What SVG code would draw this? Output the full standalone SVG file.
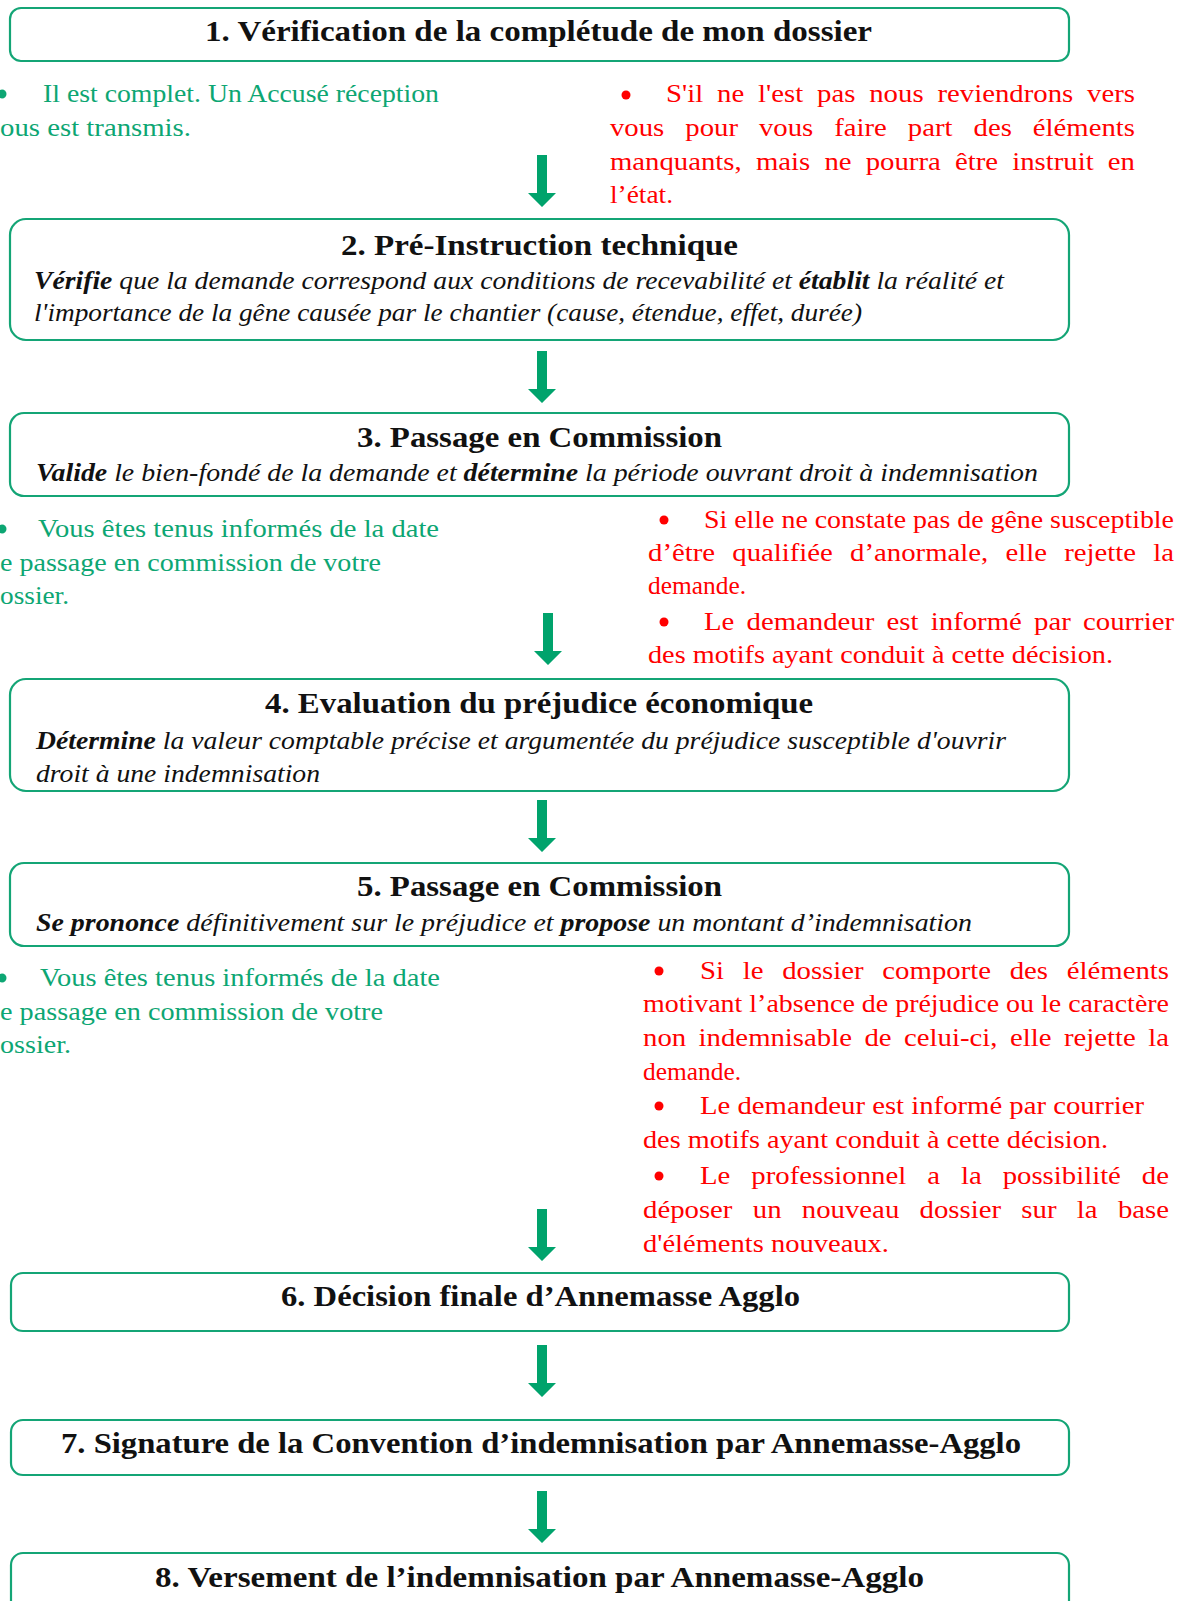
<svg xmlns="http://www.w3.org/2000/svg" xmlns:xlink="http://www.w3.org/1999/xlink" width="1187" height="1601" viewBox="0 0 1187 1601">
<style>
.box{fill:#fff;stroke:#14A576;stroke-width:2.2}
.t{font-family:"Liberation Serif",serif;font-weight:bold;font-size:29px;fill:#111}
.d{font-family:"Liberation Serif",serif;font-style:italic;font-size:25px;fill:#111}
.d .b{font-weight:bold}
.g{font-family:"Liberation Serif",serif;font-size:25px;fill:#0DA673}
.r{font-family:"Liberation Serif",serif;font-size:25px;fill:#FF0000}
.gb{fill:#0DA673}
.rb{fill:#FF0000}
.arr{fill:#00A36C}
</style>
<defs>
<path id="arrow" d="M-5,0 H5 V38 H14 L0,52 L-14,38 H-5 Z"/>
</defs>
<rect width="1187" height="1601" fill="#fff"/>

<g id="node1">
<rect class="box" x="10" y="8" width="1059" height="53" rx="11"/>
<text class="t" x="205" y="41" textLength="667" lengthAdjust="spacingAndGlyphs">1. Vérification de la complétude de mon dossier</text>
</g>

<g id="note1-ok">
<circle class="gb" cx="2" cy="94" r="4.5"/>
<text class="g" x="43" y="102" textLength="396" lengthAdjust="spacingAndGlyphs">Il est complet. Un Accusé réception</text>
<text class="g" x="0" y="136" textLength="191" lengthAdjust="spacingAndGlyphs">ous est transmis.</text>
</g>

<g id="note1-ko">
<circle class="rb" cx="626" cy="95" r="4.5"/>
<text class="r" x="666" y="102" word-spacing="5.8" textLength="469" lengthAdjust="spacingAndGlyphs">S'il ne l'est pas nous reviendrons vers</text>
<text class="r" x="610" y="136" word-spacing="12" textLength="525" lengthAdjust="spacingAndGlyphs">vous pour vous faire part des éléments</text>
<text class="r" x="610" y="170" word-spacing="6.1" textLength="525" lengthAdjust="spacingAndGlyphs">manquants, mais ne pourra être instruit en</text>
<text class="r" x="610" y="203" textLength="63" lengthAdjust="spacingAndGlyphs">l’état.</text>
</g>

<g id="node2">
<rect class="box" x="10" y="219" width="1059" height="121" rx="16"/>
<text class="t" x="341" y="255" textLength="397" lengthAdjust="spacingAndGlyphs">2. Pré-Instruction technique</text>
<text class="d" x="34" y="289" textLength="970" lengthAdjust="spacingAndGlyphs"><tspan class="b">Vérifie</tspan> que la demande correspond aux conditions de recevabilité et <tspan class="b">établit</tspan> la réalité et</text>
<text class="d" x="34" y="321" textLength="828" lengthAdjust="spacingAndGlyphs">l'importance de la gêne causée par le chantier (cause, étendue, effet, durée)</text>
</g>

<g id="node3">
<rect class="box" x="10" y="413" width="1059" height="83" rx="14"/>
<text class="t" x="357" y="447" textLength="365" lengthAdjust="spacingAndGlyphs">3. Passage en Commission</text>
<text class="d" x="36" y="481" textLength="1002" lengthAdjust="spacingAndGlyphs"><tspan class="b">Valide</tspan> le bien-fondé de la demande et <tspan class="b">détermine</tspan> la période ouvrant droit à indemnisation</text>
</g>

<g id="note3-info">
<circle class="gb" cx="2" cy="529" r="4.5"/>
<text class="g" x="38" y="537" textLength="401" lengthAdjust="spacingAndGlyphs">Vous êtes tenus informés de la date</text>
<text class="g" x="0" y="571" textLength="381" lengthAdjust="spacingAndGlyphs">e passage en commission de votre</text>
<text class="g" x="0" y="604" textLength="69" lengthAdjust="spacingAndGlyphs">ossier.</text>
</g>

<g id="note3-ko">
<circle class="rb" cx="664" cy="520" r="4.5"/>
<text class="r" x="704" y="528" textLength="470" lengthAdjust="spacingAndGlyphs">Si elle ne constate pas de gêne susceptible</text>
<text class="r" x="648" y="561" word-spacing="8.7" textLength="526" lengthAdjust="spacingAndGlyphs">d’être qualifiée d’anormale, elle rejette la</text>
<text class="r" x="648" y="594" textLength="98" lengthAdjust="spacingAndGlyphs">demande.</text>
<circle class="rb" cx="664" cy="622" r="4.5"/>
<text class="r" x="704" y="630" word-spacing="4.4" textLength="470" lengthAdjust="spacingAndGlyphs">Le demandeur est informé par courrier</text>
<text class="r" x="648" y="663" textLength="465" lengthAdjust="spacingAndGlyphs">des motifs ayant conduit à cette décision.</text>
</g>

<g id="node4">
<rect class="box" x="10" y="679" width="1059" height="112" rx="16"/>
<text class="t" x="265" y="713" textLength="548" lengthAdjust="spacingAndGlyphs">4. Evaluation du préjudice économique</text>
<text class="d" x="36" y="749" textLength="970" lengthAdjust="spacingAndGlyphs"><tspan class="b">Détermine</tspan> la valeur comptable précise et argumentée du préjudice susceptible d'ouvrir</text>
<text class="d" x="36" y="782" textLength="284" lengthAdjust="spacingAndGlyphs">droit à une indemnisation</text>
</g>

<g id="node5">
<rect class="box" x="10" y="863" width="1059" height="83" rx="14"/>
<text class="t" x="357" y="896" textLength="365" lengthAdjust="spacingAndGlyphs">5. Passage en Commission</text>
<text class="d" x="36" y="931" textLength="936" lengthAdjust="spacingAndGlyphs"><tspan class="b">Se prononce</tspan> définitivement sur le préjudice et <tspan class="b">propose</tspan> un montant d’indemnisation</text>
</g>

<g id="note5-info">
<circle class="gb" cx="2" cy="978" r="4.5"/>
<text class="g" x="40" y="986" textLength="400" lengthAdjust="spacingAndGlyphs">Vous êtes tenus informés de la date</text>
<text class="g" x="0" y="1020" textLength="383" lengthAdjust="spacingAndGlyphs">e passage en commission de votre</text>
<text class="g" x="0" y="1053" textLength="71" lengthAdjust="spacingAndGlyphs">ossier.</text>
</g>

<g id="note5-ko">
<circle class="rb" cx="659" cy="971" r="4.5"/>
<text class="r" x="700" y="979" word-spacing="10" textLength="469" lengthAdjust="spacingAndGlyphs">Si le dossier comporte des éléments</text>
<text class="r" x="643" y="1012" textLength="526" lengthAdjust="spacingAndGlyphs">motivant l’absence de préjudice ou le caractère</text>
<text class="r" x="643" y="1046" word-spacing="4.6" textLength="526" lengthAdjust="spacingAndGlyphs">non indemnisable de celui-ci, elle rejette la</text>
<text class="r" x="643" y="1080" textLength="98" lengthAdjust="spacingAndGlyphs">demande.</text>
<circle class="rb" cx="659" cy="1106" r="4.5"/>
<text class="r" x="700" y="1114" textLength="444" lengthAdjust="spacingAndGlyphs">Le demandeur est informé par courrier</text>
<text class="r" x="643" y="1148" textLength="465" lengthAdjust="spacingAndGlyphs">des motifs ayant conduit à cette décision.</text>
<circle class="rb" cx="659" cy="1176" r="4.5"/>
<text class="r" x="700" y="1184" word-spacing="12" textLength="469" lengthAdjust="spacingAndGlyphs">Le professionnel a la possibilité de</text>
<text class="r" x="643" y="1218" word-spacing="11.4" textLength="526" lengthAdjust="spacingAndGlyphs">déposer un nouveau dossier sur la base</text>
<text class="r" x="643" y="1252" textLength="246" lengthAdjust="spacingAndGlyphs">d'éléments nouveaux.</text>
</g>

<g id="node6">
<rect class="box" x="11" y="1273" width="1058" height="58" rx="12"/>
<text class="t" x="281" y="1306" textLength="519" lengthAdjust="spacingAndGlyphs">6. Décision finale d’Annemasse Agglo</text>
</g>

<g id="node7">
<rect class="box" x="11" y="1420" width="1058" height="55" rx="12"/>
<text class="t" x="61" y="1453" textLength="960" lengthAdjust="spacingAndGlyphs">7. Signature de la Convention d’indemnisation par Annemasse-Agglo</text>
</g>

<g id="node8">
<rect class="box" x="11" y="1553" width="1058" height="70" rx="12"/>
<text class="t" x="155" y="1587" textLength="769" lengthAdjust="spacingAndGlyphs">8. Versement de l’indemnisation par Annemasse-Agglo</text>
</g>

<g id="connectors" class="arr">
<use xlink:href="#arrow" href="#arrow" transform="translate(542,155)"/>
<use xlink:href="#arrow" href="#arrow" transform="translate(542,351)"/>
<use xlink:href="#arrow" href="#arrow" transform="translate(548,613)"/>
<use xlink:href="#arrow" href="#arrow" transform="translate(542,800)"/>
<use xlink:href="#arrow" href="#arrow" transform="translate(542,1209)"/>
<use xlink:href="#arrow" href="#arrow" transform="translate(542,1345)"/>
<use xlink:href="#arrow" href="#arrow" transform="translate(542,1491)"/>
</g>
</svg>
